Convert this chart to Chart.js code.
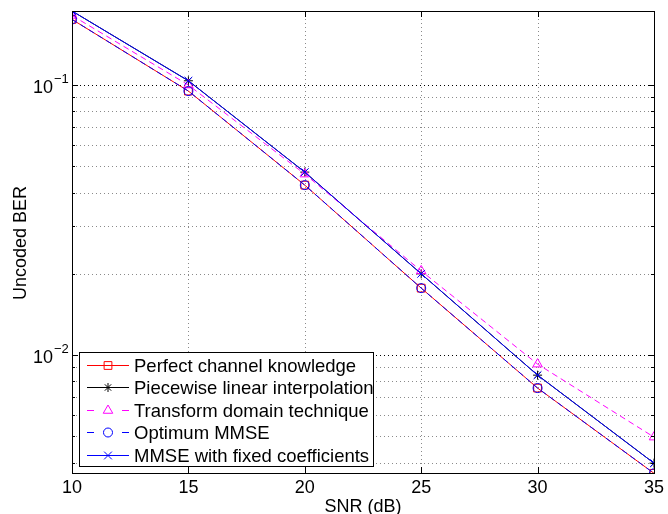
<!DOCTYPE html>
<html>
<head>
<meta charset="utf-8">
<script src="https://cdn.jsdelivr.net/npm/chart.js@4.4.1/dist/chart.umd.min.js"></script>
<style>
  html, body { margin: 0; padding: 0; background: #fff; }
  #wrap { width: 668px; height: 514px; }
</style>
</head>
<body>
<div id="wrap"><canvas id="berChart"></canvas></div>
<script>
const snr = [10, 15, 20, 25, 30, 35];
const perfectKnowledge = [0.175, 0.0950, 0.0426, 0.0177, 0.00755, 0.00365];
const piecewiseLinear = [0.188, 0.1037, 0.0476, 0.0200, 0.00843, 0.00398];
const transformDomain = [0.181, 0.1000, 0.0468, 0.0205, 0.00926, 0.00497];
const optimumMmse = [0.175, 0.0950, 0.0426, 0.0177, 0.00755, 0.00365];
const fixedMmse = [0.188, 0.1037, 0.0476, 0.0200, 0.00843, 0.00398];
const xTicks = [10, 15, 20, 25, 30, 35];
const yDecades = [-1, -2];

const FONT = "'Liberation Sans', Arial, Helvetica, sans-serif";

function pts(ys) {
  return snr.map((x, i) => ({ x: x, y: ys[i] }));
}

// dotted grid under the lines, matlab style
const matlabGrid = {
  id: "matlabGrid",
  beforeDatasetsDraw(chart) {
    const ctx = chart.ctx;
    const a = chart.chartArea;
    const xs = chart.scales.x;
    const ys = chart.scales.y;
    ctx.save();
    ctx.lineWidth = 1;
    ctx.setLineDash([1, 3]);
    ys.ticks.forEach(t => {
      const y = Math.round(ys.getPixelForValue(t.value)) + 0.5;
      ctx.strokeStyle = t.major ? "#000" : "#8a8a8a";
      ctx.beginPath();
      ctx.moveTo(a.left, y); ctx.lineTo(a.right, y);
      ctx.stroke();
    });
    ctx.strokeStyle = "#8a8a8a";
    xTicks.slice(1, -1).forEach(v => {
      const x = Math.round(xs.getPixelForValue(v)) + 0.5;
      ctx.beginPath();
      ctx.moveTo(x, a.top); ctx.lineTo(x, a.bottom);
      ctx.stroke();
    });
    ctx.restore();
  }
};

// box, inward ticks, y labels with exponents, axis titles, legend
const matlabAxes = {
  id: "matlabAxes",
  afterDraw(chart) {
    const ctx = chart.ctx;
    const a = chart.chartArea;
    const xs = chart.scales.x;
    const ys = chart.scales.y;
    ctx.save();
    ctx.strokeStyle = "#000";
    ctx.lineWidth = 1;

    ys.ticks.forEach(t => {
      const y = Math.round(ys.getPixelForValue(t.value)) + 0.5;
      const len = t.major ? 6 : 3;
      ctx.beginPath();
      ctx.moveTo(a.left, y); ctx.lineTo(a.left + len, y);
      ctx.moveTo(a.right, y); ctx.lineTo(a.right - len, y);
      ctx.stroke();
    });
    xTicks.forEach(v => {
      const x = Math.round(xs.getPixelForValue(v)) + 0.5;
      ctx.beginPath();
      ctx.moveTo(x, a.bottom); ctx.lineTo(x, a.bottom - 6);
      ctx.moveTo(x, a.top); ctx.lineTo(x, a.top + 6);
      ctx.stroke();
    });

    ctx.strokeRect(Math.round(a.left) + 0.5, Math.round(a.top) + 0.5,
      Math.round(a.right - a.left), Math.round(a.bottom - a.top));

    ctx.fillStyle = "#000";
    yDecades.forEach(k => {
      const y = ys.getPixelForValue(Math.pow(10, k));
      ctx.font = "18px " + FONT;
      ctx.textAlign = "right";
      ctx.textBaseline = "middle";
      ctx.fillText("10", 53, y + 3);
      ctx.font = "13px " + FONT;
      ctx.textAlign = "left";
      ctx.fillText("\u2212" + Math.abs(k), 54, y - 6);
    });

    ctx.font = "18px " + FONT;
    ctx.textAlign = "center";
    ctx.textBaseline = "middle";
    ctx.fillText("SNR (dB)", (a.left + a.right) / 2, 507);
    ctx.save();
    ctx.translate(21, 243);
    ctx.rotate(-Math.PI / 2);
    ctx.fillText("Uncoded BER", 0, 0);
    ctx.restore();

    // legend box
    const bx = 79, by = 352, bw = 294, bh = 114;
    ctx.fillStyle = "#fff";
    ctx.fillRect(bx, by, bw, bh);
    ctx.strokeRect(bx + 0.5, by + 0.5, bw, bh);
    chart.data.datasets.forEach((ds, i) => {
      const y = Math.round(by + 13 + i * 22.4) + 0.5;
      ctx.strokeStyle = ds.borderColor;
      ctx.lineWidth = 1;
      ctx.setLineDash(ds.borderDash.length ? [7, 28] : []);
      ctx.beginPath();
      ctx.moveTo(87, y); ctx.lineTo(129, y);
      ctx.stroke();
      ctx.setLineDash([]);
      ctx.fillStyle = "rgba(0,0,0,0)";
      Chart.helpers.drawPoint(ctx, {
        pointStyle: ds.pointStyle, radius: ds.pointRadius, rotation: 0, borderWidth: 1
      }, 108, y);
      ctx.fillStyle = "#000";
      ctx.font = "18.5px " + FONT;
      ctx.textAlign = "left";
      ctx.textBaseline = "middle";
      ctx.fillText(ds.label, 134, y + 1);
    });
    ctx.restore();
  }
};

function series(label, data, color, dash, style, radius, order) {
  return {
    label: label,
    data: pts(data),
    borderColor: color,
    backgroundColor: "transparent",
    pointBackgroundColor: "transparent",
    pointBorderColor: color,
    borderWidth: 1,
    borderDash: dash,
    pointStyle: style,
    pointRadius: radius,
    pointBorderWidth: 1,
    tension: 0,
    order: order
  };
}

new Chart(document.getElementById("berChart"), {
  type: "line",
  data: {
    datasets: [
      series("Perfect channel knowledge", perfectKnowledge, "#ff0000", [], "rect", 5.5, 5),
      series("Piecewise linear interpolation", piecewiseLinear, "#000000", [], "star", 4.5, 4),
      series("Transform domain technique", transformDomain, "#ff00ff", [6, 4], "triangle", 5.5, 3),
      series("Optimum MMSE", optimumMmse, "#0000ff", [6, 4], "circle", 4.5, 2),
      series("MMSE with fixed coefficients", fixedMmse, "#0000ff", [], "crossRot", 5.5, 1)
    ]
  },
  options: {
    responsive: true,
    maintainAspectRatio: false,
    animation: false,
    layout: { padding: { top: 11, right: 10, left: 0, bottom: 0 } },
    plugins: {
      legend: { display: false },
      tooltip: { enabled: false }
    },
    scales: {
      x: {
        type: "linear",
        min: 10,
        max: 35,
        afterBuildTicks(scale) {
          scale.ticks = xTicks.map(v => ({ value: v }));
        },
        afterFit(scale) { scale.height = 41; },
        grid: { display: false, drawTicks: false },
        border: { display: false },
        ticks: {
          padding: 4,
          autoSkip: false,
          maxRotation: 0,
          color: "#000",
          font: { family: FONT, size: 18 }
        }
      },
      y: {
        type: "logarithmic",
        min: 0.00366,
        max: 0.188,
        afterBuildTicks(scale) {
          const t = [];
          for (let k = -3; k <= -1; k++) {
            for (let m = 1; m <= 9; m++) {
              const v = m * Math.pow(10, k);
              if (v >= scale.min && v <= scale.max) t.push({ value: v, major: m === 1 });
            }
          }
          scale.ticks = t;
        },
        afterFit(scale) { scale.width = 72; },
        grid: { display: false, drawTicks: false },
        border: { display: false },
        ticks: { display: false }
      }
    }
  },
  plugins: [matlabGrid, matlabAxes]
});
</script>
</body>
</html>
